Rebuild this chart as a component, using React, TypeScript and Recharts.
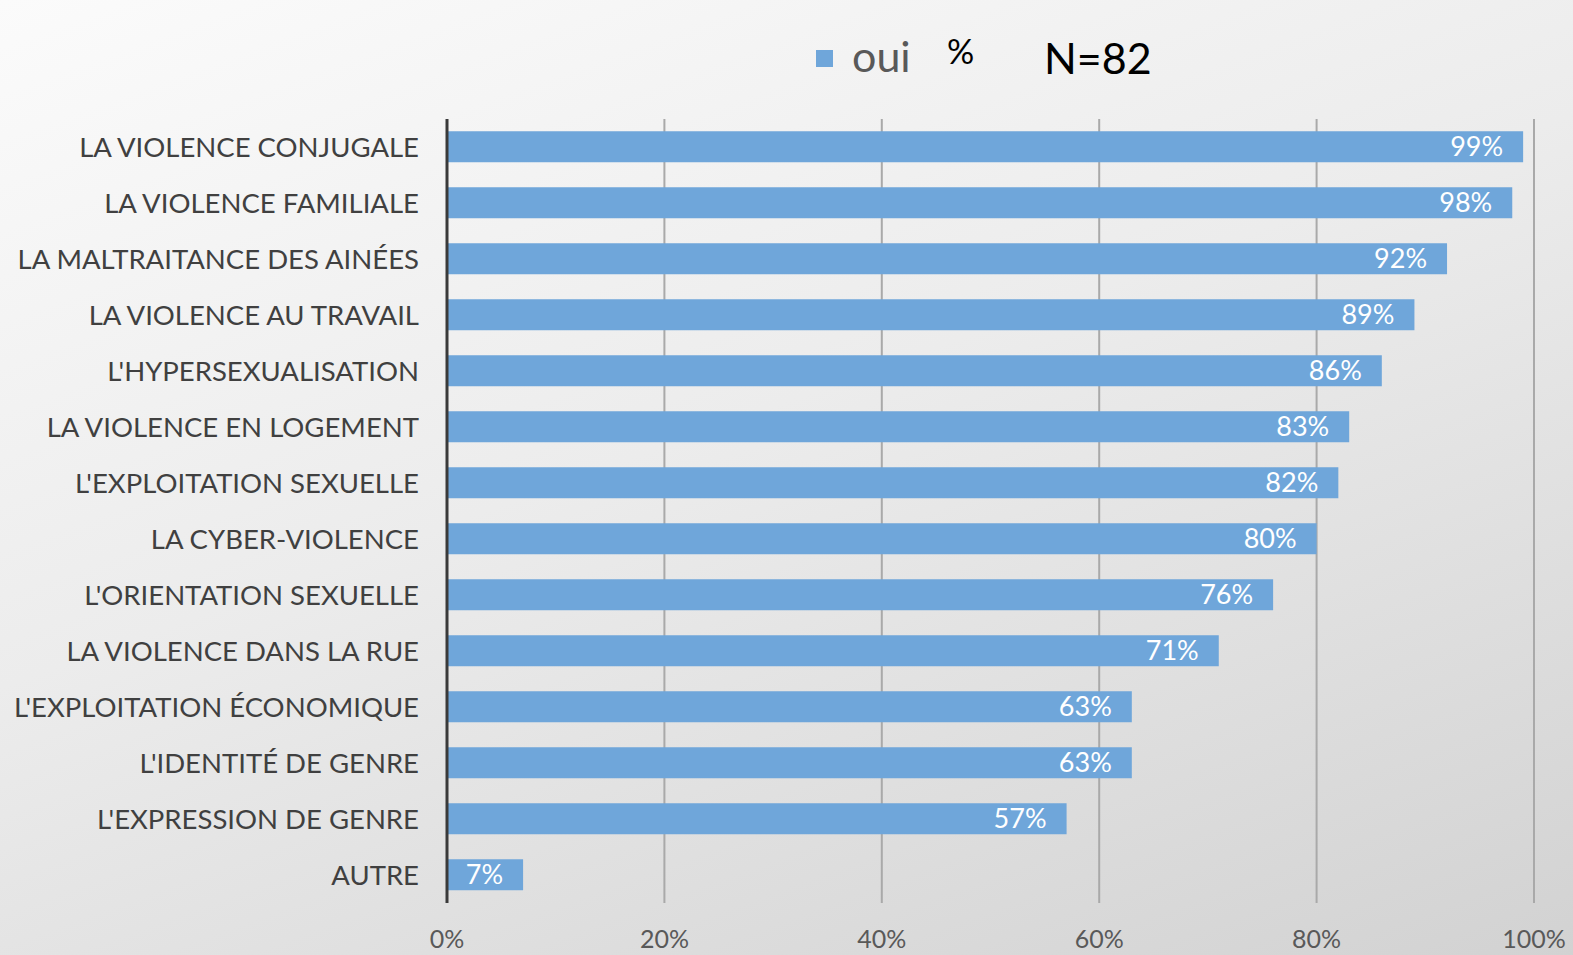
import { Bar, BarChart, CartesianGrid, LabelList, XAxis, YAxis } from "recharts"

const categories = [
    "LA VIOLENCE CONJUGALE",
    "LA VIOLENCE FAMILIALE",
    "LA MALTRAITANCE DES AINÉES",
    "LA VIOLENCE AU TRAVAIL",
    "L'HYPERSEXUALISATION",
    "LA VIOLENCE EN LOGEMENT",
    "L'EXPLOITATION SEXUELLE",
    "LA CYBER-VIOLENCE",
    "L'ORIENTATION SEXUELLE",
    "LA VIOLENCE DANS LA RUE",
    "L'EXPLOITATION ÉCONOMIQUE",
    "L'IDENTITÉ DE GENRE",
    "L'EXPRESSION DE GENRE",
    "AUTRE",
];

const ouiValues = [99, 98, 92, 89, 86, 83, 82, 80, 76, 71, 63, 63, 57, 7];

const xTicks = [0, 20, 40, 60, 80, 100];

const seriesName = "oui";
const sampleNote = "N=82";

const FONT = "Lato, 'Open Sans', sans-serif";
const BAR_COLOR = "#6fa6da";

export default function App() {
    const data = categories.map((name, i) => ({ name, oui: ouiValues[i] }));

    return (
        <div
            style={{
                position: "absolute",
                top: 0,
                left: 0,
                width: 1573,
                height: 955,
                background: "linear-gradient(160deg, #fbfbfb 0%, #ececec 45%, #d2d2d2 100%)",
                fontFamily: FONT,
                overflow: "hidden",
            }}
        >
            {/* legend + annotations */}
            <div style={{ position: "absolute", top: 30, left: 0, width: 1573, height: 60 }}>
                <div style={{ position: "absolute", left: 816, top: 20, width: 17, height: 17, background: BAR_COLOR }} />
                <div style={{ position: "absolute", left: 852, top: 1, fontSize: 43, color: "#595959", lineHeight: "50px" }}>
                    {seriesName}
                </div>
                <div style={{ position: "absolute", left: 947, top: -2, fontSize: 34, color: "#000", lineHeight: "46px" }}>
                    %
                </div>
                <div style={{ position: "absolute", left: 1044, top: 3, fontSize: 43, color: "#000", lineHeight: "50px" }}>
                    {sampleNote}
                </div>
            </div>

            <BarChart
                width={1573}
                height={955}
                data={data}
                layout="vertical"
                margin={{ top: 119, right: 39, bottom: 0, left: 0 }}
                barCategoryGap="22%"
            >
                <CartesianGrid horizontal={false} stroke="#a9a9a9" strokeWidth={2} />
                <XAxis
                    type="number"
                    domain={[0, 100]}
                    ticks={xTicks}
                    tickFormatter={(v) => `${v}%`}
                    axisLine={false}
                    tickLine={false}
                    tickSize={0}
                    tickMargin={27}
                    tick={{ fontSize: 25, fill: "#595959", fontFamily: FONT }}
                    height={52}
                />
                <YAxis
                    type="category"
                    dataKey="name"
                    width={447}
                    axisLine={{ stroke: "#3a3a3a", strokeWidth: 3 }}
                    tickLine={false}
                    tickSize={0}
                    tickMargin={28}
                    interval={0}
                    tick={{ fontSize: 27.5, fill: "#404040", fontFamily: FONT }}
                />
                <Bar dataKey="oui" fill={BAR_COLOR} isAnimationActive={false}>
                    <LabelList
                        dataKey="oui"
                        position="insideRight"
                        offset={20}
                        formatter={(v: any) => `${v}%`}
                        style={{ fill: "#ffffff", fontSize: 27, fontFamily: FONT }}
                    />
                </Bar>
            </BarChart>
        </div>
    )
}
